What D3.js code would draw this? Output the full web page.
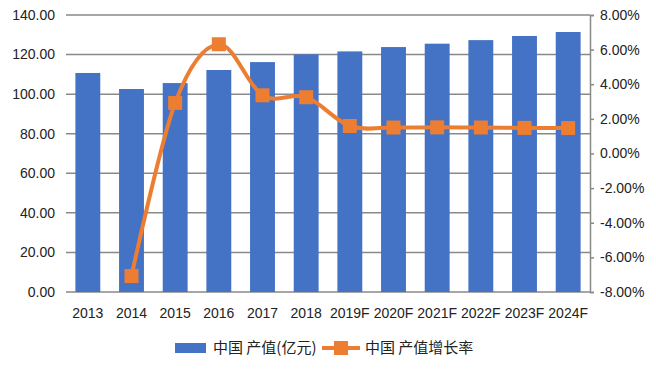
<!DOCTYPE html>
<html>
<head>
<meta charset="utf-8">
<script src="https://cdn.jsdelivr.net/npm/d3@7"></script>
<style>
  body { margin: 0; background: #fff; }
  text { font-family: "Liberation Sans", Arial, sans-serif; fill: #222; }
</style>
</head>
<body>
<script>
// chart data
var years = ["2013", "2014", "2015", "2016", "2017", "2018", "2019F", "2020F", "2021F", "2022F", "2023F", "2024F"];
var output = [110.7, 102.6, 105.6, 112.2, 116.2, 120.1, 121.6, 123.8, 125.5, 127.3, 129.4, 131.4];
var growth = [null, -7.08, 2.92, 6.31, 3.36, 3.25, 1.59, 1.50, 1.51, 1.50, 1.48, 1.47];
var leftTicks = [0, 20, 40, 60, 80, 100, 120, 140];
var rightTicks = [-8, -6, -4, -2, 0, 2, 4, 6, 8];
var barName = "中国 产值(亿元)";
var lineName = "中国 产值增长率";

var width = 656, height = 372;
var plotL = 66, plotR = 590, plotT = 15, plotB = 292;
var blue = "#4472C4", orange = "#ED7D31", grid = "#898989";

var svg = d3.select("body").append("svg")
    .attr("width", width)
    .attr("height", height);

var x = d3.scaleBand().domain(years).range([plotL, plotR]).paddingInner(0.43).paddingOuter(0.215);
var y = d3.scaleLinear().domain([0, 140]).range([plotB, plotT]);
var y2 = d3.scaleLinear().domain([-8, 8]).range([plotB, plotT]);

// gridlines
svg.append("g").selectAll("line")
    .data(leftTicks)
    .enter().append("line")
    .attr("x1", plotL).attr("x2", plotR)
    .attr("y1", function(d) { return y(d); })
    .attr("y2", function(d) { return y(d); })
    .attr("stroke", grid)
    .attr("stroke-width", 1.5);

// left axis labels
svg.append("g").selectAll("text")
    .data(leftTicks)
    .enter().append("text")
    .attr("x", 55)
    .attr("y", function(d) { return y(d); })
    .attr("dy", "0.35em")
    .attr("text-anchor", "end")
    .style("font-size", "14px")
    .text(function(d) { return d3.format(".2f")(d); });

// bars
svg.append("g").selectAll("rect")
    .data(output)
    .enter().append("rect")
    .attr("x", function(d, i) { return x(years[i]); })
    .attr("width", x.bandwidth())
    .attr("y", function(d) { return y(d); })
    .attr("height", function(d) { return y(0) - y(d); })
    .attr("fill", blue);

// right axis (plain hyphen for negatives, like the original)
var rAxis = d3.axisRight(y2)
    .tickValues(rightTicks)
    .tickSize(4)
    .tickPadding(6)
    .tickFormat(function(d) { return d.toFixed(2) + "%"; });
var ra = svg.append("g")
    .attr("transform", "translate(" + plotR + ",0)")
    .call(rAxis);
ra.select(".domain").attr("stroke", grid).attr("stroke-width", 1.5);
ra.selectAll(".tick line").attr("stroke", grid).attr("stroke-width", 1.5);
ra.selectAll(".tick text")
    .style("font-size", "14px")
    .style("font-family", "Liberation Sans, Arial, sans-serif")
    .attr("fill", "#222");

// x labels
svg.append("g").selectAll("text")
    .data(years)
    .enter().append("text")
    .attr("x", function(d) { return x(d) + x.bandwidth() / 2; })
    .attr("y", 313)
    .attr("dy", "0.35em")
    .attr("text-anchor", "middle")
    .style("font-size", "14px")
    .text(function(d) { return d; });

// growth line (smoothed)
var pts = growth.map(function(g, i) { return { year: years[i], v: g }; })
    .filter(function(d) { return d.v !== null; });
var line = d3.line()
    .x(function(d) { return x(d.year) + x.bandwidth() / 2; })
    .y(function(d) { return y2(d.v); })
    .curve(d3.curveCardinal.tension(0));
svg.append("path")
    .datum(pts)
    .attr("d", line)
    .attr("fill", "none")
    .attr("stroke", orange)
    .attr("stroke-width", 4)
    .attr("stroke-linejoin", "round");

var ms = 14;
svg.append("g").selectAll("rect")
    .data(pts)
    .enter().append("rect")
    .attr("x", function(d) { return x(d.year) + x.bandwidth() / 2 - ms / 2; })
    .attr("y", function(d) { return y2(d.v) - ms / 2; })
    .attr("width", ms).attr("height", ms)
    .attr("fill", orange);

// legend
var lg = svg.append("g");
lg.append("rect").attr("x", 175).attr("y", 343).attr("width", 31).attr("height", 10).attr("fill", blue);
lg.append("text").attr("x", 213).attr("y", 348).attr("dy", "0.35em")
    .style("font-size", "15px")
    .style("font-family", "Noto Sans CJK SC, sans-serif")
    .text(barName);
lg.append("line").attr("x1", 322).attr("x2", 360).attr("y1", 348).attr("y2", 348)
    .attr("stroke", orange).attr("stroke-width", 4);
lg.append("rect").attr("x", 341 - ms / 2).attr("y", 348 - ms / 2).attr("width", ms).attr("height", ms)
    .attr("fill", orange);
lg.append("text").attr("x", 365).attr("y", 348).attr("dy", "0.35em")
    .style("font-size", "15px")
    .style("font-family", "Noto Sans CJK SC, sans-serif")
    .text(lineName);
</script>
</body>
</html>
